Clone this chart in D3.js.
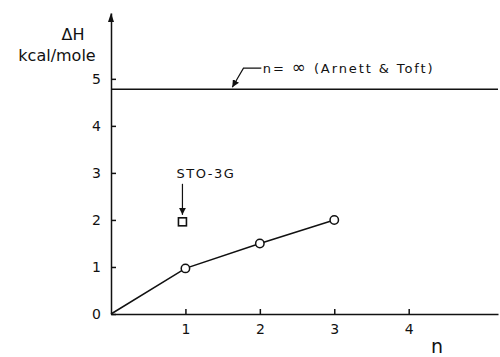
<!DOCTYPE html>
<html>
<head>
<meta charset="utf-8">
<script src="https://cdn.jsdelivr.net/npm/d3@7"></script>
<style>
  body { margin: 0; background: #fff; }
  svg text { font-family: "DejaVu Sans", sans-serif; fill: #111; }
</style>
</head>
<body>
<div id="chart"></div>
<script>
// values
const nValues = [0, 1, 2, 3];
const dHValues = [0, 0.97, 1.5, 2.0];
const stoN = [0.96];
const stoDH = [1.96];
const limitDH = 4.78;
const xTicks = [1, 2, 3, 4];
const yTicks = [0, 1, 2, 3, 4, 5];

const width = 500, height = 357;

// set the ranges
const x = d3.scaleLinear().domain([0, 5.2]).range([111, 498]);
const y = d3.scaleLinear().domain([0, 6.4]).range([314, 13]);

const svg = d3.select('#chart').append('svg')
  .attr('width', width)
  .attr('height', height);

// y axis
const yAxis = svg.append('g')
  .attr('transform', `translate(${x(0)},0)`)
  .call(d3.axisLeft(y).tickValues(yTicks).tickSize(-5).tickSizeOuter(0).tickPadding(10)
    .tickFormat(d3.format('d')));

// x axis
const xAxis = svg.append('g')
  .attr('transform', `translate(0,${y(0)})`)
  .call(d3.axisBottom(x).tickValues(xTicks).tickSize(-5).tickSizeOuter(0).tickPadding(10)
    .tickFormat(d3.format('d')));

[yAxis, xAxis].forEach(g => {
  g.selectAll('path, line').attr('stroke', '#111').attr('stroke-width', 1.5);
  g.selectAll('text').style('font-size', '14px').attr('fill', '#111');
});

// arrow on top of y axis
svg.append('path')
  .attr('d', `M${x(0) - 3},${y(6.4) + 9} L${x(0)},${y(6.4)} L${x(0) + 3},${y(6.4) + 9} Z`)
  .attr('fill', '#111');

// axis titles
svg.append('text').attr('x', 73).attr('y', 40).attr('text-anchor', 'middle')
  .style('font-size', '16px').text('ΔH');
svg.append('text').attr('x', 57).attr('y', 61).attr('text-anchor', 'middle')
  .style('font-size', '16px').text('kcal/mole');
svg.append('text').attr('x', 437).attr('y', 353).attr('text-anchor', 'middle')
  .style('font-size', '19px').text('n');

// n = infinity line
svg.append('line')
  .attr('x1', x(0)).attr('x2', x(5.2))
  .attr('y1', y(limitDH)).attr('y2', y(limitDH))
  .attr('stroke', '#111').attr('stroke-width', 1.5);

const defs = svg.append('defs');
defs.append('marker')
  .attr('id', 'ah').attr('viewBox', '0 0 10 10')
  .attr('refX', 10).attr('refY', 5)
  .attr('markerWidth', 6).attr('markerHeight', 6)
  .attr('orient', 'auto')
  .append('path').attr('d', 'M0,0 L10,5 L0,10 Z').attr('fill', '#111');

// leader for the n = infinity label
svg.append('path')
  .attr('d', `M${x(2.02)},${y(limitDH) - 21} L${x(1.78)},${y(limitDH) - 21} L${x(1.63)},${y(limitDH) - 2}`)
  .attr('fill', 'none').attr('stroke', '#111').attr('stroke-width', 1.2)
  .attr('marker-end', 'url(#ah)');
const lim = svg.append('text').attr('x', x(2.04)).attr('y', y(limitDH) - 16)
  .style('font-size', '13px').style('letter-spacing', '1.9px');
lim.append('tspan').text('n= ');
lim.append('tspan').style('font-size', '17px').text('∞');
lim.append('tspan').text('  (Arnett & Toft)');

// main series
const valueLine = d3.line()
  .x((d, i) => x(nValues[i]))
  .y(d => y(d));

svg.append('path')
  .datum(dHValues)
  .attr('d', valueLine)
  .attr('fill', 'none').attr('stroke', '#111').attr('stroke-width', 1.5);

svg.selectAll('circle.pt')
  .data(dHValues.slice(1))
  .join('circle')
  .attr('class', 'pt')
  .attr('cx', (d, i) => x(nValues[i + 1]))
  .attr('cy', d => y(d))
  .attr('r', 4.2)
  .attr('fill', '#fff').attr('stroke', '#111').attr('stroke-width', 1.5);

// STO-3G point
svg.selectAll('rect.sto')
  .data(stoDH)
  .join('rect')
  .attr('class', 'sto')
  .attr('x', (d, i) => x(stoN[i]) - 4)
  .attr('y', d => y(d) - 4)
  .attr('width', 8).attr('height', 8)
  .attr('fill', '#fff').attr('stroke', '#111').attr('stroke-width', 1.6);

svg.append('line')
  .attr('x1', x(stoN[0])).attr('x2', x(stoN[0]))
  .attr('y1', y(stoDH[0]) - 38).attr('y2', y(stoDH[0]) - 7)
  .attr('stroke', '#111').attr('stroke-width', 1.2)
  .attr('marker-end', 'url(#ah)');
svg.append('text').attr('x', x(stoN[0]) - 6).attr('y', y(stoDH[0]) - 44)
  .style('font-size', '13px').style('letter-spacing', '1.5px').text('STO-3G');
</script>
</body>
</html>
